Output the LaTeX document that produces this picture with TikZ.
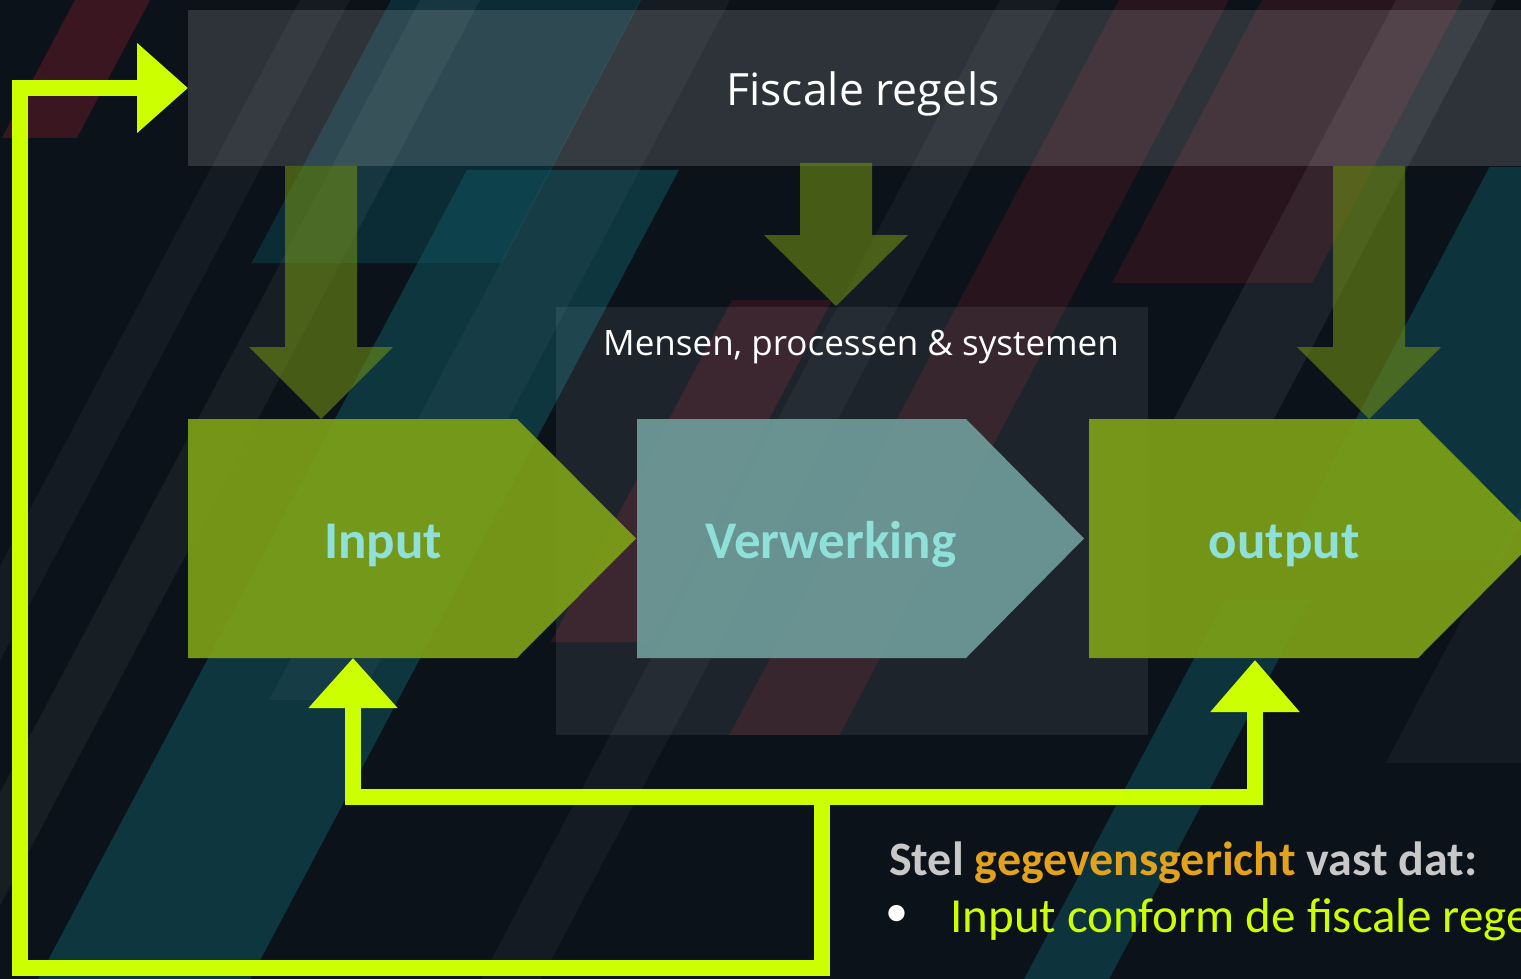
\documentclass[tikz,border=0pt]{standalone}
\usepackage{fontspec}
\setmainfont{Carlito}
\newfontfamily\uifont{Open Sans}
\usepackage{tikz}
\usetikzlibrary{arrows.meta}

\definecolor{bgdark}{HTML}{0B1219}
\definecolor{stripered}{HTML}{6A1A28}
\definecolor{stripeteal}{HTML}{0F5560}
\definecolor{chevgreen}{HTML}{7FA316}
\definecolor{chevteal}{HTML}{6E9C9A}
\definecolor{arrowgreen}{HTML}{6E8E14}
\definecolor{lblteal}{HTML}{8FE0D8}
\definecolor{feedlime}{HTML}{CCFF00}
\definecolor{accentorange}{HTML}{E3A21E}
\definecolor{textgrey}{HTML}{C8C8C8}

\begin{document}
\begin{tikzpicture}[x=1pt,y=-1pt,
    chevron/.style={fill=chevgreen,opacity=0.9},
    dnarrow/.style={fill=arrowgreen,opacity=0.6},
    feedback/.style={draw=feedlime,line width=16pt,line join=miter},
    lbl/.style={text=lblteal,font=\fontsize{53}{60}\selectfont\bfseries,inner sep=0pt,anchor=base}]
        \useasboundingbox (0,0) rectangle (1521,979);
        \clip (0,0) rectangle (1521,979);
        \fill[bgdark] (0,0) rectangle (1521,979);
        % diagonal background stripes
        \foreach \xa/\w/\ya/\yb/\col/\op in {75/75/0/138/stripered/0.5, 391/250/0/263/stripeteal/0.4,
            557/212/170/979/stripeteal/0.55, 1262/200/0/283/stripered/0.3, 1119/110/0/735/stripered/0.3,
            891/100/300/642/stripered/0.35, 1578/220/167/560/stripeteal/0.5, 1543/85/600/979/stripeteal/0.5,
            300/50/0/979/white/0.04, 420/60/0/979/white/0.05, 640/90/0/700/white/0.04,
            1000/60/0/979/white/0.04, 1396/100/0/420/white/0.07, 1790/400/480/763/white/0.04}
            \fill[\col,opacity=\op] ({\xa-0.53*\ya},\ya) -- ({\xa+\w-0.53*\ya},\ya) -- ({\xa+\w-0.53*\yb},\yb) -- ({\xa-0.53*\yb},\yb) -- cycle;
        % bands
        \fill[white,opacity=0.14] (188,10) rectangle (1521,166);
        \fill[white,opacity=0.08] (556,307) rectangle (1148,735);
        \node[text=white,font=\uifont\fontsize{44.5}{52}\selectfont,anchor=base,inner sep=0pt] (fiscaal) at (863,106) {Fiscale regels};
        \node[text=white,font=\uifont\fontsize{35}{42}\selectfont,anchor=base,inner sep=0pt] (mensen) at (861,355) {Mensen, processen \& systemen};
        % rules coming down
        \foreach \cx/\ty/\ny/\py in {321/166/347/419, 836/163/235/306, 1369/166/347/419}
            \fill[dnarrow] (\cx-36,\ty) -- (\cx+36,\ty) -- (\cx+36,\ny) -- (\cx+72,\ny) -- (\cx,\py) -- (\cx-72,\ny) -- (\cx-36,\ny) -- cycle;
        % chevrons
        \fill[chevron] (188,419) -- (517,419) -- (636,538.5) -- (517,658) -- (188,658) -- cycle;
        \fill[chevron,fill=chevteal,opacity=0.92] (637,419) -- (966,419) -- (1084,538.5) -- (966,658) -- (637,658) -- cycle;
        \fill[chevron] (1089,419) -- (1418,419) -- (1537,538.5) -- (1418,658) -- (1089,658) -- cycle;
        \node[lbl] (input) at (383,558) {Input};
        \node[lbl] (verwerking) at (831,558) {Verwerking};
        \node[lbl] (output) at (1284,558) {output};
        % feedback lines
        \coordinate (inTip) at (353,658);
        \coordinate (outTip) at (1255,660);
        \coordinate (split) at (822,797);
        \coordinate (rulesIn) at (188,88);
        \draw[feedback,{Triangle[length=50pt,width=86pt]}-{Triangle[length=52pt,width=86pt]}] (inTip) -- (353,797) -- (1255,797) -- (outTip);
        \draw[feedback,-{Triangle[length=51pt,width=87pt]}] (split) -- (822,968) -- (20,968) -- (20,88) -- (rulesIn);
        % conclusion text
        \node[anchor=base west,inner sep=0pt,text=textgrey,font=\fontsize{48}{56}\selectfont\bfseries] (stel) at (889,875) {Stel \textcolor{accentorange}{gegevensgericht} vast dat:};
        \node[inner sep=0pt,text=white,font=\fontsize{46}{56}\selectfont] (bullet) at (897,916) {\textbullet};
        \node[anchor=base west,inner sep=0pt,text=feedlime,font=\fontsize{49}{56}\selectfont] (punt) at (950,932) {Input conform de fiscale regels};
    \end{tikzpicture}
\end{document}
